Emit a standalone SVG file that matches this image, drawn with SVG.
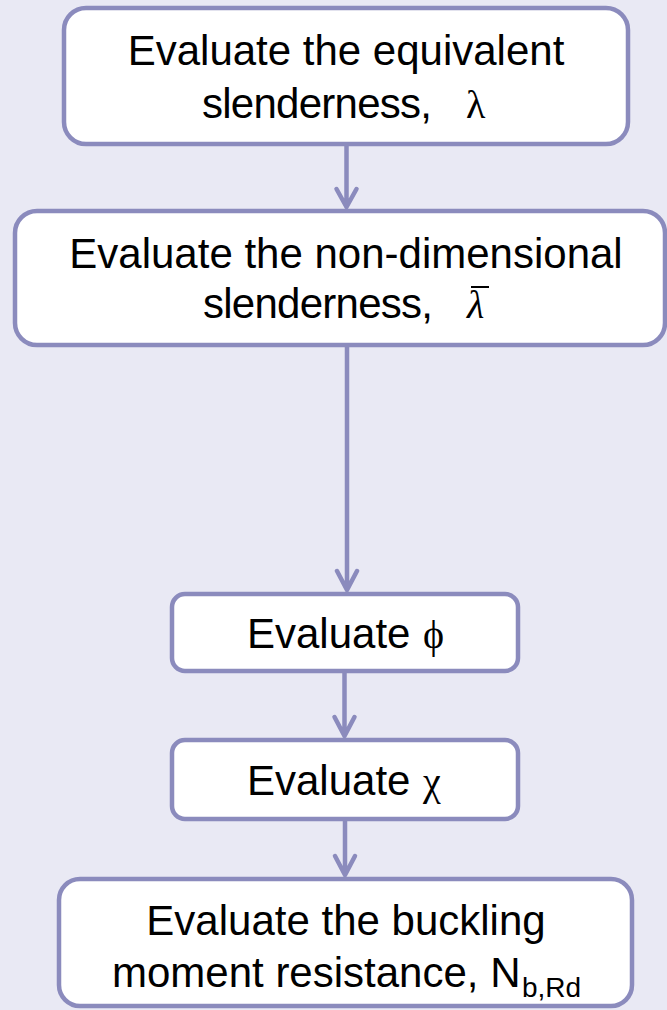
<svg xmlns="http://www.w3.org/2000/svg" width="667" height="1010" viewBox="0 0 667 1010">
  <style>
    .box { fill: #ffffff; stroke: #8b8bbd; stroke-width: 4.5; }
    .wire { fill: none; stroke: #8b8bbd; stroke-width: 4.5; stroke-linecap: round; stroke-linejoin: round; }
    .t { font-family: "Liberation Sans", Arial, sans-serif; font-size: 42px; fill: #000000; }
    .sym { font-family: "Liberation Serif", "Times New Roman", serif; font-size: 40px; fill: #000000; }
    .symi { font-family: "Liberation Serif", "Times New Roman", serif; font-size: 40px; font-style: italic; fill: #000000; }
    .sub { font-family: "Liberation Sans", Arial, sans-serif; font-size: 28px; fill: #000000; }
  </style>
  <rect width="667" height="1010" fill="#e9e9f4"/>

  <!-- connectors -->
  <g id="connectors">
    <path class="wire" d="M346.5 146 V207 M336.5 189 L346.5 207 L356.5 189"/>
    <path class="wire" d="M347 347 V590 M337 571 L347 590 L357 571"/>
    <path class="wire" d="M344.5 673 V736 M334.5 717 L344.5 736 L354.5 717"/>
    <path class="wire" d="M345 821 V875 M335 856 L345 875 L355 856"/>
  </g>

  <g id="node-slenderness">
    <rect class="box" x="64" y="8" width="564" height="136" rx="22"/>
    <text class="t" x="346" y="65" text-anchor="middle">Evaluate the equivalent</text>
    <text class="t" x="202" y="118" textLength="230">slenderness,</text>
    <text class="sym" x="466" y="118">λ</text>
  </g>

  <g id="node-nondim">
    <rect class="box" x="15" y="211" width="650" height="134" rx="22"/>
    <text class="t" x="346" y="268" text-anchor="middle">Evaluate the non-dimensional</text>
    <text class="t" x="203" y="318" textLength="230">slenderness,</text>
    <!-- lambda with overbar rule -->
    <text class="symi" x="467" y="318">λ</text>
    <line x1="471" y1="287" x2="489" y2="287" stroke="#000000" stroke-width="2"/>
  </g>

  <g id="node-phi">
    <rect class="box" x="172" y="594" width="346" height="77" rx="13"/>
    <text class="t" x="247" y="648">Evaluate</text>
    <text class="sym" x="423" y="648">ϕ</text>
  </g>

  <g id="node-chi">
    <rect class="box" x="172" y="740" width="346" height="79" rx="13"/>
    <text class="t" x="247" y="795">Evaluate</text>
    <text class="sym" x="423" y="795">χ</text>
  </g>

  <g id="node-resistance">
    <rect class="box" x="59" y="879" width="573" height="127" rx="21"/>
    <text class="t" x="346" y="935" text-anchor="middle">Evaluate the buckling</text>
    <text class="t" x="112" y="987">moment resistance, N</text>
    <text class="sub" x="522" y="997">b,Rd</text>
  </g>
</svg>
